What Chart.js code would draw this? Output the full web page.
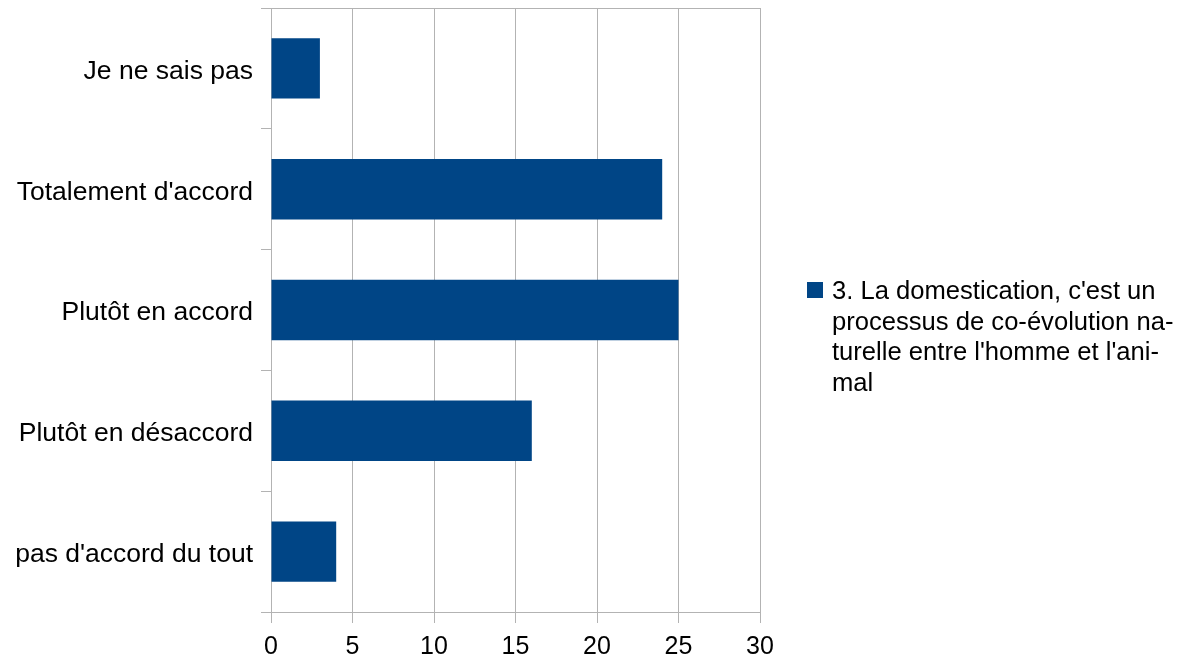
<!DOCTYPE html>
<html>
<head>
<meta charset="utf-8">
<script src="https://cdn.jsdelivr.net/npm/chart.js@4/dist/chart.umd.min.js"></script>
<style>
  html, body { margin: 0; padding: 0; background: #fff; }
  #wrap { position: relative; width: 1183px; height: 660px; }
  #legende {
    position: absolute; left: 807px; top: 275px; width: 376px;
    font-family: 'Liberation Sans', Arial, sans-serif; font-size: 25.6px; line-height: 30.5px; color: #000;
  }
  #legende .carre {
    position: absolute; left: 0; top: 7px; width: 16px; height: 16px; background: #004586;
  }
  #legende .txt { margin-left: 25px; white-space: nowrap; }
</style>
</head>
<body>
<div id="wrap">
  <canvas id="graphique"></canvas>
  <div id="legende"><span class="carre"></span><div class="txt">3. La domestication, c'est un<br>processus de co-évolution na-<br>turelle entre l'homme et l'ani-<br>mal</div></div>
</div>
<script>
// ── Données ────────────────────────────────────────────
const CATEGORIES = ['Je ne sais pas', "Totalement d'accord", 'Plutôt en accord', 'Plutôt en désaccord', "pas d'accord du tout"];
const VALEURS = [3, 24, 25, 16, 4];
const SERIE = "3. La domestication, c'est un processus de co-évolution naturelle entre l'homme et l'animal";

const GRIS = '#b3b3b3';

// ligne du haut de la zone de tracé
const bordHaut = {
  id: 'bordHaut',
  afterDraw(chart) {
    const { ctx, chartArea } = chart;
    ctx.save();
    ctx.strokeStyle = GRIS;
    ctx.lineWidth = 1;
    ctx.beginPath();
    ctx.moveTo(chartArea.left - 10, chartArea.top + 0.5);
    ctx.lineTo(chartArea.right, chartArea.top + 0.5);
    ctx.stroke();
    ctx.restore();
  },
};

new Chart(document.getElementById('graphique'), {
  type: 'bar',
  data: {
    labels: CATEGORIES,
    datasets: [{
      label: SERIE,
      data: VALEURS,
      backgroundColor: '#004586',
      borderWidth: 0,
      barPercentage: 0.5,
      categoryPercentage: 1,
    }],
  },
  options: {
    indexAxis: 'y',
    responsive: true,
    maintainAspectRatio: false,
    animation: false,
    layout: { padding: { top: 8, right: 423, left: 0, bottom: 0 } },
    plugins: { legend: { display: false }, tooltip: { enabled: false } },
    scales: {
      x: {
        min: 0, max: 30,
        ticks: { stepSize: 5, color: '#000', font: { family: 'Liberation Sans', size: 25 }, padding: 9 },
        grid: { color: GRIS, tickLength: 11 },
        border: { color: GRIS },
        afterFit: s => { s.height = 48; s.paddingLeft = 0; s.paddingRight = 0; },
      },
      y: {
        ticks: { color: '#000', font: { family: 'Liberation Sans', size: 26.5 }, padding: 8, labelOffset: 3 },
        grid: { color: GRIS, drawOnChartArea: false, tickLength: 10, offset: true },
        border: { color: GRIS },
        afterFit: s => { s.width = 271; s.paddingTop = 0; s.paddingBottom = 0; },
      },
    },
  },
  plugins: [bordHaut],
});
</script>
</body>
</html>
